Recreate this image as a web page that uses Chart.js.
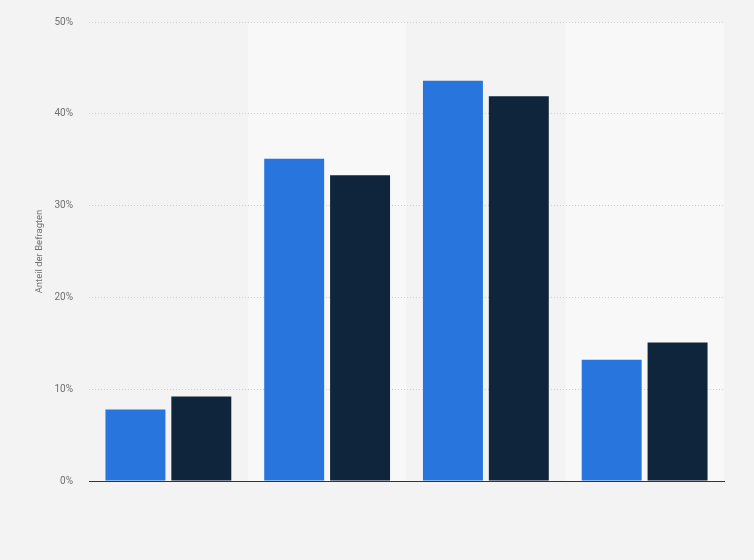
<!DOCTYPE html>
<html>
<head>
<meta charset="utf-8">
<script src="https://cdn.jsdelivr.net/npm/chart.js@4"></script>
<style>
  html, body { margin: 0; padding: 0; background: #f3f3f3; }
  #wrap { width: 754px; height: 560px; }
</style>
</head>
<body>
<div id="wrap"><canvas id="chart"></canvas></div>
<script>
const categories = ["", "", "", ""];
const seriesA = [7.8, 35.1, 43.6, 13.2];
const seriesB = [9.2, 33.3, 41.9, 15.1];
const yTicks = [0, 10, 20, 30, 40, 50];

// light bands behind every second category
const bandPlugin = {
    id: "bands",
    beforeDraw(chart) {
        const { ctx, chartArea, scales } = chart;
        const x = scales.x;
        const w = x.width / categories.length;
        ctx.save();
        ctx.fillStyle = "#f8f8f8";
        for (let i = 1; i < categories.length; i += 2) {
            ctx.fillRect(x.getPixelForValue(i) - w / 2, chartArea.top, w, chartArea.bottom - chartArea.top);
        }
        ctx.restore();
    }
};

const ctx = document.getElementById("chart").getContext("2d");

new Chart(ctx, {
    type: "bar",
    data: {
        labels: categories,
        datasets: [
            { data: seriesA, backgroundColor: "#2876dd" },
            { data: seriesB, backgroundColor: "#0f253b" }
        ]
    },
    options: {
        responsive: true,
        maintainAspectRatio: false,
        animation: false,
        layout: { padding: { top: 20, right: 30, bottom: 79, left: 0 } },
        plugins: { legend: { display: false }, tooltip: { enabled: false } },
        datasets: { bar: { categoryPercentage: 0.83, barPercentage: 0.91 } },
        scales: {
            x: {
                ticks: { display: false },
                grid: { display: false, drawTicks: false },
                border: { display: true, color: "#333333", width: 1 }
            },
            y: {
                min: 0,
                max: 50,
                afterFit(scale) { scale.width = 89; },
                afterBuildTicks(scale) { scale.ticks = yTicks.map(v => ({ value: v })); },
                ticks: {
                    padding: 16,
                    color: "#707070",
                    font: { family: "Roboto, Arial, sans-serif", size: 10 },
                    callback: v => v + "%"
                },
                grid: {
                    color: ctx => ctx.tick.value === 0 ? "rgba(0,0,0,0)" : "#cfcfcf",
                    drawTicks: false
                },
                border: { display: false, dash: [1, 2] },
                title: {
                    display: true,
                    text: "Anteil der Befragten",
                    color: "#707070",
                    font: { family: "Roboto, Arial, sans-serif", size: 9.5 },
                    padding: { top: 34, bottom: 12 }
                }
            }
        }
    },
    plugins: [bandPlugin]
});
</script>
</body>
</html>
